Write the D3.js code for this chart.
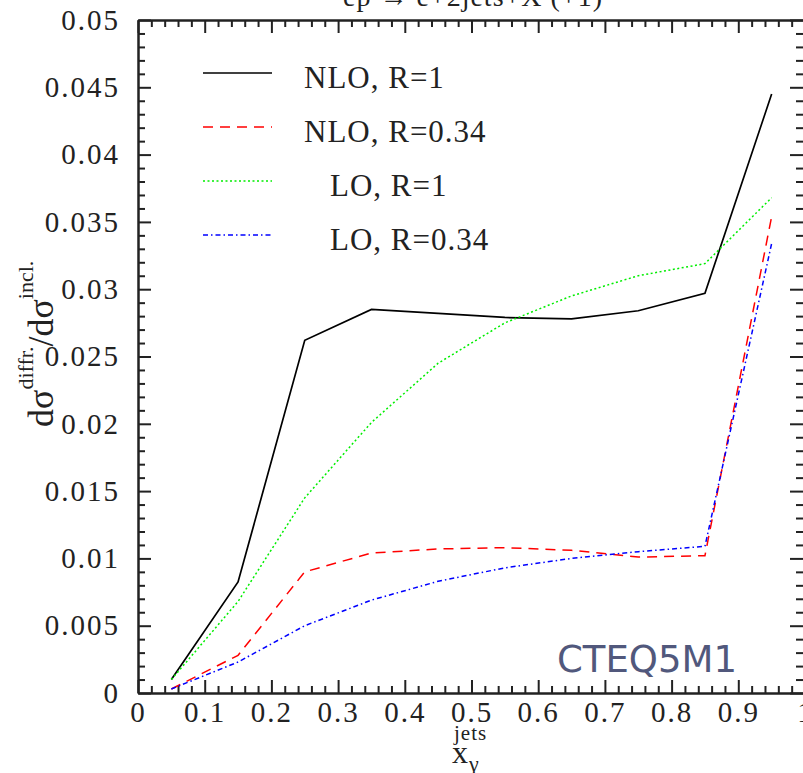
<!DOCTYPE html>
<html>
<head>
<meta charset="utf-8">
<script src="https://cdn.jsdelivr.net/npm/d3@7"></script>
<style>
  body { margin: 0; background: #fff; }
  svg { display: block; }
  .axis text { font-family: "Liberation Serif", "Times New Roman", serif; font-size: 29px; letter-spacing: 2px; fill: #222; }
  .axis path, .axis line { stroke: #222; stroke-width: 2; }
</style>
</head>
<body>
<script>
// x values (x_gamma^jets bin centres)
var xValues = [0.05, 0.15, 0.25, 0.35, 0.45, 0.55, 0.65, 0.75, 0.85, 0.95];

// dsigma^diffr / dsigma^incl per series
var nloR1   = [0.0010, 0.00825, 0.0262, 0.0285, 0.0282, 0.0279, 0.0278, 0.0284, 0.0297, 0.0445];
var nloR034 = [0.0003, 0.0028, 0.0090, 0.0104, 0.0107, 0.0108, 0.0106, 0.0101, 0.0102, 0.0354];
var loR1    = [0.0010, 0.0068, 0.0145, 0.0201, 0.0245, 0.0275, 0.0295, 0.0310, 0.0319, 0.0368];
var loR034  = [0.0003, 0.0023, 0.0050, 0.0069, 0.0083, 0.0093, 0.0100, 0.0105, 0.0109, 0.0334];

var seriesNames = ["NLO, R=1", "NLO, R=0.34", "LO, R=1", "LO, R=0.34"];
var seriesValues = [nloR1, nloR034, loR1, loR034];

var xTicks = [0, 0.1, 0.2, 0.3, 0.4, 0.5, 0.6, 0.7, 0.8, 0.9, 1];
var yTicks = [0, 0.005, 0.01, 0.015, 0.02, 0.025, 0.03, 0.035, 0.04, 0.045, 0.05];
var xTickLabels = ["0", "0.1", "0.2", "0.3", "0.4", "0.5", "0.6", "0.7", "0.8", "0.9", "1"];
var yTickLabels = ["0", "0.005", "0.01", "0.015", "0.02", "0.025", "0.03", "0.035", "0.04", "0.045", "0.05"];

var width = 803, height = 773;
var plotLeft = 138, plotRight = 805, plotTop = 20, plotBottom = 693;

var styles = [
    { color: "#000000", dash: null, w: 1.7 },
    { color: "#ff0000", dash: "10,7", w: 1.5 },
    { color: "#00ee00", dash: "2,2.5", w: 1.5 },
    { color: "#0000ff", dash: "5,3,1.5,3", w: 1.5 }
];

var svg = d3.select("body").append("svg")
    .attr("width", width)
    .attr("height", height);

var x = d3.scaleLinear().domain([0, 1]).range([plotLeft, plotRight]);
var y = d3.scaleLinear().domain([0, 0.05]).range([plotBottom, plotTop]);

var xMinor = d3.range(0, 51).map(function(i) { return i * 0.02; })
    .filter(function(v) { return Math.abs(v * 10 - Math.round(v * 10)) > 1e-6; });
var yMinor = d3.range(0, 51).map(function(i) { return i * 0.001; })
    .filter(function(v) { return Math.abs(v * 200 - Math.round(v * 200)) > 1e-6; });

// minor ticks on all four sides
svg.append("g").attr("class", "axis").attr("transform", "translate(0," + plotBottom + ")")
    .call(d3.axisBottom(x).tickValues(xMinor).tickFormat("").tickSize(-7).tickSizeOuter(0));
svg.append("g").attr("class", "axis").attr("transform", "translate(0," + plotTop + ")")
    .call(d3.axisTop(x).tickValues(xMinor).tickFormat("").tickSize(-7).tickSizeOuter(0));
svg.append("g").attr("class", "axis").attr("transform", "translate(" + plotLeft + ",0)")
    .call(d3.axisLeft(y).tickValues(yMinor).tickFormat("").tickSize(-7).tickSizeOuter(0));
svg.append("g").attr("class", "axis").attr("transform", "translate(" + plotRight + ",0)")
    .call(d3.axisRight(y).tickValues(yMinor).tickFormat("").tickSize(-9).tickSizeOuter(0));

// major ticks
svg.append("g").attr("class", "axis").attr("transform", "translate(0," + plotBottom + ")")
    .call(d3.axisBottom(x).tickValues(xTicks)
        .tickFormat(function(d, i) { return xTickLabels[i]; })
        .tickSize(-13).tickSizeOuter(0).tickPadding(8));
svg.append("g").attr("class", "axis").attr("transform", "translate(0," + plotTop + ")")
    .call(d3.axisTop(x).tickValues(xTicks).tickFormat("").tickSize(-13).tickSizeOuter(0));
svg.append("g").attr("class", "axis").attr("transform", "translate(" + plotLeft + ",0)")
    .call(d3.axisLeft(y).tickValues(yTicks)
        .tickFormat(function(d, i) { return yTickLabels[i]; })
        .tickSize(-13).tickSizeOuter(0).tickPadding(18));
svg.append("g").attr("class", "axis").attr("transform", "translate(" + plotRight + ",0)")
    .call(d3.axisRight(y).tickValues(yTicks).tickFormat("").tickSize(-15).tickSizeOuter(0));

// series lines
var line = d3.line()
    .x(function(d, i) { return x(xValues[i]); })
    .y(function(d) { return y(d); });

var order = [0, 2, 1, 3];
order.forEach(function(k) {
    svg.append("path")
        .attr("d", line(seriesValues[k]))
        .attr("fill", "none")
        .attr("stroke", styles[k].color)
        .attr("stroke-width", styles[k].w)
        .attr("stroke-dasharray", styles[k].dash);
});

// legend
var legendY = [73, 127, 181, 235];
var legendTextX = [304, 304, 330, 330];
seriesNames.forEach(function(name, k) {
    svg.append("line")
        .attr("x1", 203).attr("x2", 272)
        .attr("y1", legendY[k]).attr("y2", legendY[k])
        .attr("stroke", styles[k].color)
        .attr("stroke-width", styles[k].w)
        .attr("stroke-dasharray", styles[k].dash);
    svg.append("text")
        .attr("x", legendTextX[k])
        .attr("y", legendY[k] + 15)
        .style("font-family", "Liberation Serif, serif")
        .style("font-size", "31px")
        .style("letter-spacing", "1px")
        .style("fill", "#222")
        .text(name);
});

// title (cut at top edge)
svg.append("text")
    .attr("x", 473).attr("y", 6)
    .attr("text-anchor", "middle")
    .style("font-family", "Liberation Serif, serif")
    .style("font-size", "28px")
    .style("letter-spacing", "1px")
    .style("fill", "#222")
    .text("ep \u2192 e+2jets+X (+1)");

// y label
var yl = svg.append("text")
    .attr("transform", "translate(53,427) rotate(-90)")
    .style("font-family", "Liberation Serif, serif")
    .style("fill", "#222");
yl.append("tspan").style("font-size", "36px").text("d\u03c3");
yl.append("tspan").attr("dy", -20).style("font-size", "22px").text("diffr.");
yl.append("tspan").attr("dy", 20).style("font-size", "36px").text("/d\u03c3");
yl.append("tspan").attr("dy", -20).style("font-size", "22px").text("incl.");

// x label
svg.append("text")
    .attr("x", 452).attr("y", 763)
    .style("font-family", "Liberation Serif, serif")
    .style("font-size", "32px")
    .style("fill", "#222")
    .text("x");
svg.append("text")
    .attr("x", 454).attr("y", 740)
    .style("font-family", "Liberation Serif, serif")
    .style("font-size", "21px")
    .style("letter-spacing", "1px")
    .style("fill", "#222")
    .text("jets");
svg.append("text")
    .attr("x", 469).attr("y", 771)
    .style("font-family", "Liberation Serif, serif")
    .style("font-size", "22px")
    .style("fill", "#222")
    .text("\u03b3");

// PDF set annotation
svg.append("text")
    .attr("x", 557).attr("y", 672)
    .style("font-family", "DejaVu Sans, Verdana, sans-serif")
    .style("font-size", "37px")
    .style("fill", "#51587c")
    .text("CTEQ5M1");
</script>
</body>
</html>
